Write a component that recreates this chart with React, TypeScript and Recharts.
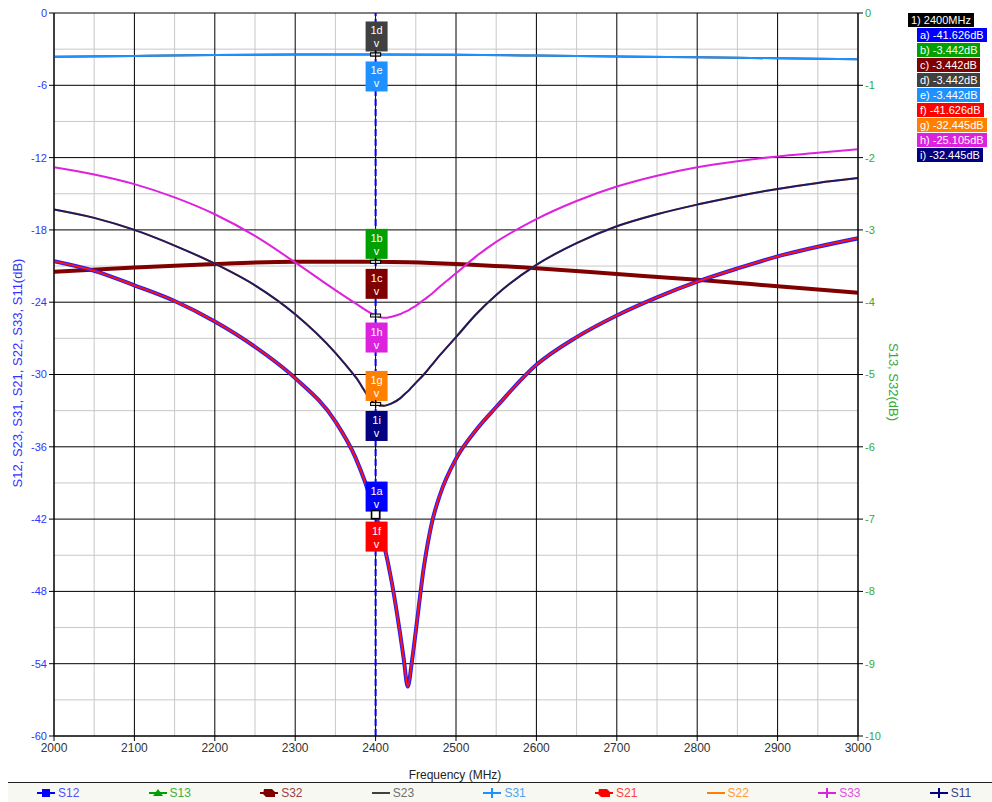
import React from "react";
import {
  LineChart,
  Line,
  XAxis,
  YAxis,
  CartesianGrid,
  ReferenceLine,
  ReferenceDot,
} from "recharts";

// ─── Data ─────────────────────────────────────────────────────────────────────

const FREQ = [
  2000, 2050, 2100, 2150, 2200, 2250, 2300, 2350, 2375, 2400,
  2410, 2420, 2430, 2435, 2440, 2445, 2450, 2460, 2470, 2480,
  2500, 2525, 2550, 2600, 2650, 2700, 2750, 2800, 2850, 2900, 2950, 3000,
];
const FREQ_FLAT = [2000, 2100, 2200, 2300, 2400, 2500, 2600, 2700, 2800, 2900, 3000];

// left axis (dB)
const S21 = [
  -20.6, -21.4, -22.6, -23.9, -25.6, -27.7, -30.3, -33.9, -36.9, -41.6,
  -44.0, -47.2, -51.3, -53.6, -55.9, -53.9, -51.3, -46.0, -42.3, -40.0,
  -37.0, -34.6, -32.7, -29.2, -26.9, -25.1, -23.6, -22.3, -21.2, -20.2, -19.4, -18.7,
];
const S12 = [
  -20.6, -21.4, -22.6, -23.9, -25.6, -27.7, -30.3, -33.9, -36.9, -41.6,
  -44.0, -47.2, -51.3, -53.6, -55.9, -53.9, -51.3, -46.0, -42.3, -40.0,
  -37.0, -34.6, -32.7, -29.2, -26.9, -25.1, -23.6, -22.3, -21.2, -20.2, -19.4, -18.7,
];
const S11 = [
  -16.3, -17.0, -18.0, -19.3, -20.8, -22.6, -25.0, -28.2, -30.2, -32.45,
  -32.6, -32.4, -32.0, -31.7, -31.4, -31.05, -30.7, -30.0, -29.2, -28.4,
  -26.9, -25.0, -23.4, -20.9, -19.1, -17.7, -16.7, -15.9, -15.2, -14.6, -14.1, -13.7,
];
const S22 = [
  -16.3, -17.0, -18.0, -19.3, -20.8, -22.6, -25.0, -28.2, -30.2, -32.45,
  -32.6, -32.4, -32.0, -31.7, -31.4, -31.05, -30.7, -30.0, -29.2, -28.4,
  -26.9, -25.0, -23.4, -20.9, -19.1, -17.7, -16.7, -15.9, -15.2, -14.6, -14.1, -13.7,
];
const S33 = [
  -12.8, -13.4, -14.2, -15.3, -16.7, -18.5, -20.7, -23.0, -24.1, -25.1,
  -25.3, -25.2, -25.0, -24.85, -24.7, -24.5, -24.3, -23.8, -23.3, -22.7,
  -21.6, -20.2, -19.0, -17.1, -15.6, -14.4, -13.5, -12.8, -12.3, -11.9, -11.6, -11.3,
];
const S31 = [-3.64, -3.56, -3.49, -3.45, -3.44, -3.47, -3.53, -3.6, -3.68, -3.76, -3.84];
const S23 = [-3.64, -3.56, -3.49, -3.45, -3.44, -3.47, -3.53, -3.6, -3.68, -3.76, -3.84];

// right axis (dB)
const S32 = [-3.58, -3.52, -3.47, -3.44, -3.44, -3.47, -3.53, -3.61, -3.69, -3.78, -3.87];
const S13 = [-3.58, -3.52, -3.47, -3.44, -3.44, -3.47, -3.53, -3.61, -3.69, -3.78, -3.87];

const X_TICKS = [2000, 2100, 2200, 2300, 2400, 2500, 2600, 2700, 2800, 2900, 3000];
const X_MINOR = [2050, 2150, 2250, 2350, 2450, 2550, 2650, 2750, 2850, 2950];
const LEFT_TICKS = [-60, -54, -48, -42, -36, -30, -24, -18, -12, -6, 0];
const LEFT_MINOR = [-57, -51, -45, -39, -33, -27, -21, -15, -9, -3];
const RIGHT_TICKS = [-10, -9, -8, -7, -6, -5, -4, -3, -2, -1, 0];

const MARKER_FREQ = 2400;
const MARKER_IDS = ["a", "b", "c", "d", "e", "f", "g", "h", "i"];
const MARKER_VALUES = [-41.626, -3.442, -3.442, -3.442, -3.442, -41.626, -32.445, -25.105, -32.445];

const LEGEND_NAMES = ["S12", "S13", "S32", "S23", "S31", "S21", "S22", "S33", "S11"];

const X_TITLE = "Frequency (MHz)";
const LEFT_TITLE = "S12, S23, S31, S21, S22, S33, S11(dB)";
const RIGHT_TITLE = "S13, S32(dB)";

// ─── Styles ───────────────────────────────────────────────────────────────────

const FONT = '"Liberation Sans", Arial, sans-serif';

const MARKER_STYLE: Record<string, { color: string; axis: string; above: boolean }> = {
  a: { color: "#0000ff", axis: "left", above: true },
  b: { color: "#00a000", axis: "right", above: true },
  c: { color: "#800000", axis: "right", above: false },
  d: { color: "#404040", axis: "left", above: true },
  e: { color: "#1e90ff", axis: "left", above: false },
  f: { color: "#ff0000", axis: "left", above: false },
  g: { color: "#ff8000", axis: "left", above: true },
  h: { color: "#dd22dd", axis: "left", above: false },
  i: { color: "#000080", axis: "left", above: false },
};

const LEGEND_STYLE: Record<string, { line: string; text: string; icon: string }> = {
  S12: { line: "#0000ff", text: "#5050ff", icon: "square" },
  S13: { line: "#00a000", text: "#40b040", icon: "triangle" },
  S32: { line: "#800000", text: "#a04040", icon: "blob" },
  S23: { line: "#404040", text: "#707070", icon: "none" },
  S31: { line: "#1e90ff", text: "#50a0f0", icon: "plus" },
  S21: { line: "#ff0000", text: "#ff4040", icon: "blob" },
  S22: { line: "#ff8000", text: "#ff9a40", icon: "none" },
  S33: { line: "#dd22dd", text: "#dd50dd", icon: "plus" },
  S11: { line: "#000080", text: "#404080", icon: "plus" },
};

function toRows(xs: number[], ys: number[]) {
  return xs.map((f, i) => ({ f, v: ys[i] }));
}

const SERIES = [
  { name: "S23", data: toRows(FREQ_FLAT, S23), color: "#404040", width: 2, axis: "left" },
  { name: "S31", data: toRows(FREQ_FLAT, S31), color: "#1e90ff", width: 2, axis: "left" },
  { name: "S13", data: toRows(FREQ_FLAT, S13), color: "#00a000", width: 2, axis: "right" },
  { name: "S32", data: toRows(FREQ_FLAT, S32), color: "#800000", width: 4, axis: "right" },
  { name: "S22", data: toRows(FREQ, S22), color: "#ff8000", width: 2, axis: "left" },
  { name: "S11", data: toRows(FREQ, S11), color: "#1a1a6a", width: 2, axis: "left" },
  { name: "S33", data: toRows(FREQ, S33), color: "#dd22dd", width: 2, axis: "left" },
  { name: "S12", data: toRows(FREQ, S12), color: "#2020ff", width: 4, axis: "left" },
  { name: "S21", data: toRows(FREQ, S21), color: "#ff1010", width: 2, axis: "left" },
];

// ─── Pieces ───────────────────────────────────────────────────────────────────

function markerShape(id: string) {
  const st = MARKER_STYLE[id];
  return (props: any) => {
    const { cx, cy } = props;
    const w = 22;
    const h = 30;
    const top = st.above ? cy - h - 3 : cy + 7;
    const isSquare = id === "a" || id === "f";
    return (
      <g>
        <rect x={cx - w / 2 + 1} y={top} width={w} height={h} fill={st.color} />
        <text x={cx + 1} y={top + 13} textAnchor="middle" fontSize={11} fontFamily={FONT} fill="#fff">
          {"1" + id}
        </text>
        <text x={cx + 1} y={top + 26} textAnchor="middle" fontSize={11} fontFamily={FONT} fill="#fff">
          v
        </text>
        {isSquare ? (
          <rect x={cx - 4} y={cy - 4} width={8} height={8} fill="#fff" stroke="#000" strokeWidth={1.5} />
        ) : (
          <g stroke="#000" strokeWidth={1}>
            <rect x={cx - 5} y={cy - 1.5} width={10} height={3} fill="#ddd" />
            <line x1={cx} y1={cy - 4} x2={cx} y2={cy + 4} />
          </g>
        )}
      </g>
    );
  };
}

function LegendIcon({ kind, color }: { kind: string; color: string }) {
  return (
    <svg width={18} height={10} style={{ display: "block" }}>
      <line x1={0} y1={5} x2={18} y2={5} stroke={color} strokeWidth={2} />
      {kind === "square" && <rect x={5} y={1} width={8} height={8} fill={color} />}
      {kind === "triangle" && <polygon points="9,1 14,8 4,8" fill={color} />}
      {kind === "blob" && <polygon points="4,1 12,1 15,4 15,9 6,9 3,6" fill={color} />}
      {kind === "plus" && <line x1={9} y1={0} x2={9} y2={10} stroke={color} strokeWidth={2} />}
    </svg>
  );
}

function MarkerTable() {
  return (
    <div style={{ position: "absolute", left: 908, top: 13, fontFamily: FONT, fontSize: 11, lineHeight: "14px", color: "#fff" }}>
      <div style={{ background: "#000", padding: "0 3px", display: "inline-block", height: 14 }}>
        {`1) ${MARKER_FREQ}MHz`}
      </div>
      {MARKER_IDS.map((id, i) => (
        <div key={id} style={{ marginLeft: 9, marginTop: 1 }}>
          <span style={{ background: MARKER_STYLE[id].color, padding: "0 3px", display: "inline-block", height: 14 }}>
            {`${id}) ${MARKER_VALUES[i].toFixed(3)}dB`}
          </span>
        </div>
      ))}
    </div>
  );
}

function BottomLegend() {
  return (
    <div
      style={{
        position: "absolute",
        left: 8,
        top: 782,
        width: 984,
        height: 20,
        borderTop: "1.5px solid #222",
        background: "#f8f8f2",
        fontFamily: FONT,
        fontSize: 12,
      }}
    >
      {LEGEND_NAMES.map((name, i) => {
        const st = LEGEND_STYLE[name];
        return (
          <div
            key={name}
            style={{ position: "absolute", left: 29 + i * 111.6, top: 3, display: "flex", alignItems: "center", gap: 3 }}
          >
            <LegendIcon kind={st.icon} color={st.line} />
            <span style={{ color: st.text }}>{name}</span>
          </div>
        );
      })}
    </div>
  );
}

function AxisTitles() {
  return (
    <svg width={992} height={802} style={{ position: "absolute", left: 0, top: 0, pointerEvents: "none" }}>
      <text x={455} y={779} textAnchor="middle" fontSize={12} fill="#222" fontFamily={FONT}>
        {X_TITLE}
      </text>
      <text
        transform="translate(22,373) rotate(-90)"
        textAnchor="middle"
        fontSize={13}
        fill="#3333ff"
        fontFamily={FONT}
      >
        {LEFT_TITLE}
      </text>
      <text
        transform="translate(889,382) rotate(90)"
        textAnchor="middle"
        fontSize={13}
        fill="#33aa33"
        fontFamily={FONT}
      >
        {RIGHT_TITLE}
      </text>
    </svg>
  );
}

// ─── Chart ────────────────────────────────────────────────────────────────────

export default function App() {
  return (
    <div style={{ position: "absolute", left: 0, top: 0, width: 992, height: 802, background: "#fff", overflow: "hidden" }}>
      <LineChart width={992} height={802} margin={{ top: 13, right: 94, left: 0, bottom: 36 }}>
        <CartesianGrid
          yAxisId="left"
          verticalValues={X_MINOR}
          horizontalValues={LEFT_MINOR}
          stroke="#c8c8c8"
          strokeWidth={1}
        />
        <CartesianGrid
          yAxisId="left"
          verticalValues={X_TICKS}
          horizontalValues={LEFT_TICKS}
          stroke="#000"
          strokeWidth={1}
        />
        <XAxis
          dataKey="f"
          type="number"
          domain={[2000, 3000]}
          ticks={X_TICKS}
          allowDataOverflow
          height={30}
          tickSize={5}
          stroke="#000"
          tick={{ fontSize: 12, fill: "#333", fontFamily: FONT }}
        />
        <YAxis
          yAxisId="left"
          domain={[-60, 0]}
          ticks={LEFT_TICKS}
          width={54}
          tickSize={5}
          stroke="#000"
          tick={{ fontSize: 11, fill: "#3333ff", fontFamily: FONT }}
        />
        <YAxis
          yAxisId="right"
          orientation="right"
          domain={[-10, 0]}
          ticks={RIGHT_TICKS}
          width={40}
          tickSize={5}
          stroke="#000"
          tick={{ fontSize: 11, fill: "#33aa33", fontFamily: FONT }}
        />
        {SERIES.map((s) => (
          <Line
            key={s.name}
            yAxisId={s.axis}
            data={s.data}
            dataKey="v"
            name={s.name}
            type="monotone"
            stroke={s.color}
            strokeWidth={s.width}
            dot={false}
            activeDot={false}
            isAnimationActive={false}
          />
        ))}
        <ReferenceLine
          yAxisId="left"
          x={MARKER_FREQ}
          stroke="#0000ff"
          strokeWidth={2}
          strokeDasharray="7 3"
        />
        {MARKER_IDS.map((id, i) => (
          <ReferenceDot
            key={id}
            yAxisId={MARKER_STYLE[id].axis}
            x={MARKER_FREQ}
            y={MARKER_VALUES[i]}
            ifOverflow="visible"
            shape={markerShape(id)}
          />
        ))}
      </LineChart>
      <AxisTitles />
      <MarkerTable />
      <BottomLegend />
    </div>
  );
}
